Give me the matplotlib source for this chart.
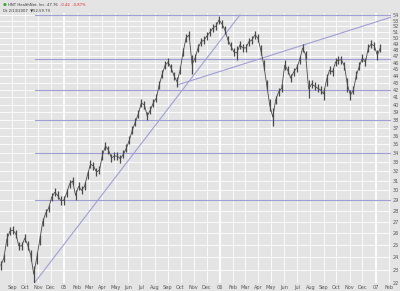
import matplotlib
matplotlib.use("Agg")
import matplotlib.pyplot as plt
import matplotlib.dates as mdates
from matplotlib.ticker import FixedLocator, NullLocator
import pandas as pd

# weekly bars, Health Net price
week_start = "2004-08-06"
highs = [23.7, 24.2, 26.0, 26.5, 26.6, 26.3, 25.2, 25.2, 25.9, 25.3,
         24.6, 23.3, 24.4, 25.8, 27.3, 28.2, 28.6, 29.7, 30.2, 29.9,
         29.4, 29.4, 30.1, 31.1, 31.4, 30.0, 30.8, 30.4, 30.8, 32.0,
         33.2, 33.0, 32.3, 32.5, 34.3, 35.3, 34.8, 33.9, 34.1, 34.1,
         33.8, 34.3, 35.0, 36.0, 37.2, 38.2, 39.3, 40.7, 40.5, 39.0,
         39.8, 40.7, 41.4, 43.3, 44.9, 46.3, 46.7, 45.8, 44.6, 43.9,
         45.5, 48.3, 50.7, 51.2, 47.2, 47.4, 49.0, 50.0, 50.3, 51.0,
         51.7, 52.4, 52.7, 53.8, 53.1, 52.0, 50.3, 49.3, 48.3, 48.7,
         49.5, 49.0, 49.0, 50.0, 50.3, 51.2, 50.7, 48.8, 46.4, 43.4,
         40.7, 39.5, 41.2, 42.3, 42.8, 46.4, 45.5, 44.3, 45.2, 45.8,
         47.1, 49.0, 47.9, 43.4, 43.4, 43.1, 42.8, 42.6, 42.3, 44.3,
         45.5, 45.2, 46.7, 47.1, 47.1, 46.1, 43.7, 42.0, 42.6, 44.7,
         46.1, 47.4, 46.7, 49.0, 49.7, 49.3, 48.0, 49.0]
lows = [23.0, 23.6, 24.9, 25.8, 25.9, 25.6, 24.6, 24.6, 25.2, 24.6,
        23.7, 22.0, 23.4, 25.0, 26.6, 27.4, 27.9, 28.9, 29.4, 29.1,
        28.6, 28.6, 29.3, 30.2, 30.5, 29.0, 30.0, 29.6, 30.0, 31.2,
        32.3, 32.1, 31.5, 31.7, 33.2, 34.3, 33.9, 33.0, 33.2, 33.2,
        32.9, 33.4, 34.1, 35.0, 36.2, 37.2, 38.2, 39.7, 39.4, 38.0,
        38.7, 39.7, 40.3, 42.1, 43.7, 45.0, 45.5, 44.6, 43.4, 42.4,
        44.3, 47.1, 49.3, 49.8, 44.3, 46.1, 47.7, 48.7, 49.0, 49.7,
        50.3, 51.0, 51.4, 52.4, 51.7, 50.7, 49.0, 48.0, 47.1, 46.4,
        48.2, 47.7, 47.7, 48.7, 49.0, 49.8, 49.3, 47.2, 44.9, 42.0,
        39.1, 37.2, 40.1, 41.2, 41.7, 44.9, 44.3, 43.1, 44.0, 44.6,
        45.8, 47.7, 46.6, 40.9, 42.3, 42.0, 41.7, 41.4, 40.6, 42.6,
        44.3, 44.0, 45.5, 45.8, 45.8, 44.9, 41.7, 40.6, 41.4, 43.6,
        44.9, 46.1, 45.5, 47.7, 48.3, 48.0, 46.4, 47.7]

levels = [54, 46.6, 42, 38, 34, 29]
levels_from = "2004-10-25"
trend_up = (["2004-10-25", "2006-02-17"], [22.05, 54.0])
trend_flat = (["2005-09-23", "2007-02-06"], [42.7, 53.6])

y_ticks = list(range(22, 55))

dates = pd.date_range(week_start, periods=len(highs), freq="7D")

bg = "#e4e4e4"
line_col = "#9f9fd6"

fig = plt.figure(figsize=(4, 2.91), dpi=100, facecolor=bg)
ax = fig.add_axes([0, 8 / 291, 391 / 400, 270 / 291])
ax.set_facecolor(bg)

ax.set_yscale("log")
ax.set_ylim(21.99, 54.36)
ax.set_xlim(pd.Timestamp("2004-08-04"), pd.Timestamp("2007-02-06"))

# month grid, heavier at year start
months = pd.date_range("2004-09-01", "2007-02-01", freq="MS")
for m in months:
    ax.axvline(m, color="white", lw=1.3 if m.month == 1 else 0.6, zorder=0)
for t in y_ticks:
    ax.axhline(t, color="white", lw=0.6, zorder=0)

# support / resistance levels and trendlines
for lv in levels:
    ax.plot([pd.Timestamp(levels_from), pd.Timestamp("2007-02-06")], [lv, lv],
            color=line_col, lw=0.8, zorder=1)
for d, p in (trend_up, trend_flat):
    ax.plot(pd.to_datetime(d), p, color=line_col, lw=0.8, zorder=1)

# price bars
mids = [(h + l) / 2 for h, l in zip(highs, lows)]
ax.vlines(dates, lows, highs, color="#4a4a4a", lw=0.9, zorder=2)
ax.plot(dates, mids, color="#4a4a4a", lw=0.6, zorder=2)

ax.yaxis.tick_right()
ax.yaxis.set_major_locator(FixedLocator(y_ticks))
ax.yaxis.set_minor_locator(NullLocator())
ax.set_yticklabels([str(t) for t in y_ticks])
ax.xaxis.set_major_locator(FixedLocator(mdates.date2num(months)))
ax.set_xticklabels([m.strftime("%y") if m.month == 1 else m.strftime("%b") for m in months])
ax.tick_params(axis="both", length=0, labelsize=3.6, colors="#555555")
ax.tick_params(axis="y", pad=1.5)
ax.tick_params(axis="x", pad=1.5)
for s in ax.spines.values():
    s.set_visible(False)

# header
fig.text(3 / 400, 1 - 5 / 291, "\u25cf", color="#33aa33", fontsize=3.2, va="center")
fig.text(8 / 400, 1 - 5 / 291, "HNT HealthNet, Inc. 47.76", color="#333333",
         fontsize=2.7, va="center")
fig.text(60 / 400, 1 - 5 / 291, "-0.42  -0.87%", color="#dd2222", fontsize=2.7, va="center")
fig.text(3 / 400, 1 - 10.5 / 291, "Dt 2/13/2007  \u25bc52.59.79", color="#333333",
         fontsize=2.7, va="center")

fig.savefig("out.png", dpi=100, facecolor=bg)
